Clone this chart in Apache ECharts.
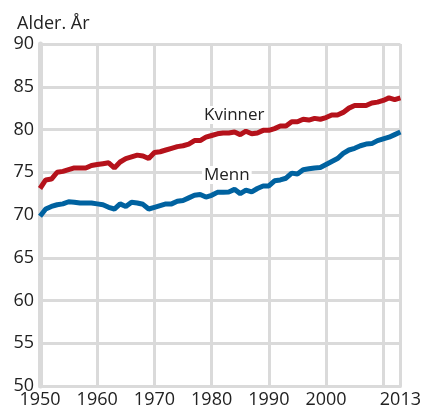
<!DOCTYPE html>
<html>
<head>
<meta charset="utf-8">
<script src="https://cdn.jsdelivr.net/npm/echarts@6/dist/echarts.min.js"></script>
<style>
  html, body { margin: 0; padding: 0; background: #fff; }
  #chart { width: 424px; height: 414px; }
</style>
</head>
<body>
<div id="chart"></div>
<script>
var years = [];
for (var y = 1950; y <= 2013; y++) years.push(y);

var kvinner = [
  73.1, 74.1, 74.2, 75.0, 75.1, 75.3, 75.5, 75.5, 75.5, 75.8,
  75.9, 76.0, 76.1, 75.5, 76.2, 76.6, 76.8, 77.0, 76.9, 76.6,
  77.3, 77.4, 77.6, 77.8, 78.0, 78.1, 78.3, 78.7, 78.7, 79.1,
  79.3, 79.5, 79.6, 79.6, 79.7, 79.4, 79.8, 79.5, 79.6, 79.9,
  79.9, 80.1, 80.4, 80.4, 80.9, 80.9, 81.2, 81.1, 81.3, 81.2,
  81.4, 81.7, 81.7, 82.0, 82.5, 82.8, 82.8, 82.8, 83.1, 83.2,
  83.4, 83.7, 83.5, 83.7
];
var menn = [
  69.85, 70.7, 71.0, 71.2, 71.3, 71.55, 71.5, 71.4, 71.4, 71.4,
  71.3, 71.2, 70.9, 70.7, 71.3, 71.0, 71.5, 71.4, 71.25, 70.7,
  70.9, 71.1, 71.3, 71.3, 71.6, 71.7, 72.0, 72.3, 72.4, 72.1,
  72.3, 72.65, 72.65, 72.7, 73.0, 72.5, 72.9, 72.7, 73.1, 73.4,
  73.4, 74.0, 74.1, 74.3, 74.9, 74.8, 75.3, 75.4, 75.5, 75.55,
  75.9, 76.25, 76.6, 77.2, 77.6, 77.8, 78.1, 78.3, 78.35, 78.7,
  78.9, 79.1, 79.4, 79.7
];
var xLabels = [1950, 1960, 1970, 1980, 1990, 2000, 2013];

function pairs(vals) {
  return vals.map(function (v, i) { return [years[i], v]; });
}

var FONT = '"Open Sans", "Noto Sans", sans-serif';
var GRID = '#dadada';

var chart = echarts.init(document.getElementById('chart'));
var option = {
  animation: false,
  textStyle: { fontFamily: FONT },
  title: {
    text: 'Alder. År',
    left: 12,
    top: 10,
    textStyle: { fontFamily: FONT, fontSize: 18, fontWeight: 'normal', color: '#222' }
  },
  grid: { left: 40, right: 22, top: 44, bottom: 28 },
  xAxis: {
    type: 'value',
    min: 1950,
    max: 2013,
    interval: 10,
    axisLine: { show: true, lineStyle: { color: GRID, width: 3 } },
    axisTick: { show: false },
    splitLine: { show: true, lineStyle: { color: GRID, width: 3 } },
    axisLabel: {
      margin: 5,
      fontSize: 18,
      color: '#222',
      fontFamily: FONT,
      showMinLabel: true,
      showMaxLabel: true,
      formatter: function (v) { return xLabels.indexOf(v) >= 0 ? String(v) : ''; }
    }
  },
  yAxis: {
    type: 'value',
    min: 50,
    max: 90,
    interval: 5,
    axisLine: { show: true, lineStyle: { color: GRID, width: 5 } },
    axisTick: { show: false },
    splitLine: { show: true, lineStyle: { color: GRID, width: 3 } },
    axisLabel: { margin: 6, fontSize: 18, color: '#222', fontFamily: FONT }
  },
  series: [
    {
      name: 'Kvinner',
      type: 'line',
      data: pairs(kvinner),
      showSymbol: false,
      lineStyle: { color: '#b5121b', width: 5 }
    },
    {
      name: 'Menn',
      type: 'line',
      data: pairs(menn),
      showSymbol: false,
      lineStyle: { color: '#0062a0', width: 5 }
    }
  ],
  graphic: [
    {
      type: 'text', left: 202, top: 106, z: 100,
      style: { text: 'Kvinner', font: '17px ' + FONT, fill: '#222', backgroundColor: '#fff', padding: [1, 2, 0, 2] }
    },
    {
      type: 'text', left: 202, top: 166, z: 100,
      style: { text: 'Menn', font: '17px ' + FONT, fill: '#222', backgroundColor: '#fff', padding: [1, 2, 0, 2] }
    }
  ]
};
chart.setOption(option);
window.onresize = chart.resize;
</script>
</body>
</html>
